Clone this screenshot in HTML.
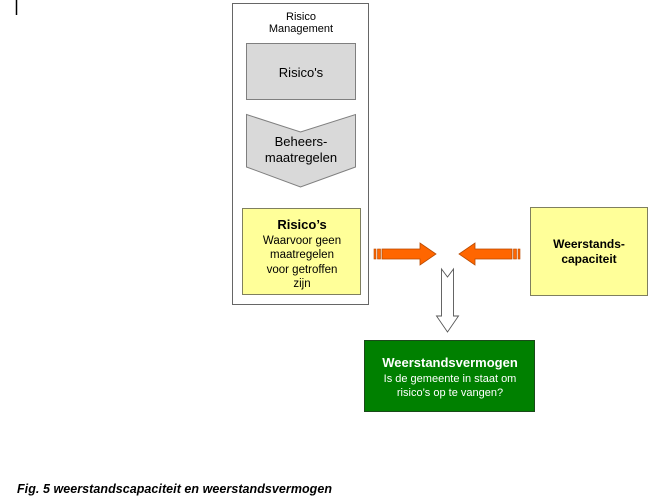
<!DOCTYPE html>
<html><head><meta charset="utf-8"><style>
html,body{margin:0;padding:0;background:#fff;}
svg{display:block;}
text{font-family:"Liberation Sans",Arial,sans-serif;}
</style></head><body>
<svg width="671" height="502" viewBox="0 0 671 502" xmlns="http://www.w3.org/2000/svg">
<rect x="0" y="0" width="671" height="502" fill="#fff"/>
<line x1="16.5" y1="0" x2="16.5" y2="15" stroke="#000" stroke-width="1.5"/>
<!-- outer box -->
<rect x="232.5" y="3.5" width="136" height="301" fill="#fff" stroke="#666" stroke-width="1"/>
<text x="301" y="20" font-size="11" text-anchor="middle" fill="#000">Risico</text>
<text x="301" y="32" font-size="11" text-anchor="middle" fill="#000">Management</text>
<!-- gray box -->
<rect x="246.5" y="43.5" width="109" height="56" fill="#d9d9d9" stroke="#7f7f7f" stroke-width="1"/>
<text x="301" y="77" font-size="13" text-anchor="middle" fill="#000">Risico's</text>
<!-- chevron -->
<polygon points="246.5,114.5 300.5,132 355.5,114.5 355.5,167 300.5,187 246.5,167" fill="#d9d9d9" stroke="#7f7f7f" stroke-width="1"/>
<text x="301" y="146" font-size="13" text-anchor="middle" fill="#000">Beheers-</text>
<text x="301" y="162" font-size="13" text-anchor="middle" fill="#000">maatregelen</text>
<!-- yellow left -->
<rect x="242.5" y="208.5" width="118" height="86" fill="#ffff99" stroke="#7f7f5f" stroke-width="1"/>
<text x="302" y="229" font-size="13" font-weight="bold" text-anchor="middle" fill="#000">Risico’s</text>
<text x="302" y="244" font-size="11.5" text-anchor="middle" fill="#000">Waarvoor geen</text>
<text x="302" y="258" font-size="11.5" text-anchor="middle" fill="#000">maatregelen</text>
<text x="302" y="273" font-size="11.5" text-anchor="middle" fill="#000">voor getroffen</text>
<text x="302" y="287" font-size="11.5" text-anchor="middle" fill="#000">zijn</text>
<!-- left orange arrow -->
<rect x="374" y="249" width="2" height="10" fill="#ff6600" stroke="#b84a00" stroke-width="0.6"/>
<rect x="377.5" y="249" width="3" height="10" fill="#ff6600" stroke="#b84a00" stroke-width="0.6"/>
<polygon points="382,249 420,249 420,243 436,254 420,265 420,259 382,259" fill="#ff6600" stroke="#b84a00" stroke-width="0.8"/>
<!-- right orange arrow -->
<rect x="518" y="249" width="2" height="10" fill="#ff6600" stroke="#b84a00" stroke-width="0.6"/>
<rect x="513.5" y="249" width="3" height="10" fill="#ff6600" stroke="#b84a00" stroke-width="0.6"/>
<polygon points="512,249 475,249 475,243 459,254 475,265 475,259 512,259" fill="#ff6600" stroke="#b84a00" stroke-width="0.8"/>
<!-- down hollow arrow -->
<polygon points="441.5,269 447.5,277 453.5,269 453.5,316 458.5,316 447.5,332 436.5,316 441.5,316" fill="#fff" stroke="#555" stroke-width="0.9"/>
<!-- right yellow -->
<rect x="530.5" y="207.5" width="117" height="88" fill="#ffff99" stroke="#7f7f5f" stroke-width="1"/>
<text x="589" y="248" font-size="12" font-weight="bold" text-anchor="middle" fill="#000">Weerstands-</text>
<text x="589" y="263" font-size="12" font-weight="bold" text-anchor="middle" fill="#000">capaciteit</text>
<!-- green -->
<rect x="364.5" y="340.5" width="170" height="71" fill="#008000" stroke="#1a4a1a" stroke-width="1"/>
<text x="450" y="367" font-size="13" font-weight="bold" text-anchor="middle" fill="#fff">Weerstandsvermogen</text>
<text x="450" y="382" font-size="11" text-anchor="middle" fill="#fff">Is de gemeente in staat om</text>
<text x="450" y="396" font-size="11" text-anchor="middle" fill="#fff">risico’s op te vangen?</text>
<!-- caption -->
<text x="17" y="493" font-size="12.5" font-weight="bold" font-style="italic" fill="#000" textLength="315" lengthAdjust="spacing">Fig. 5 weerstandscapaciteit en weerstandsvermogen</text>
</svg>
</body></html>
